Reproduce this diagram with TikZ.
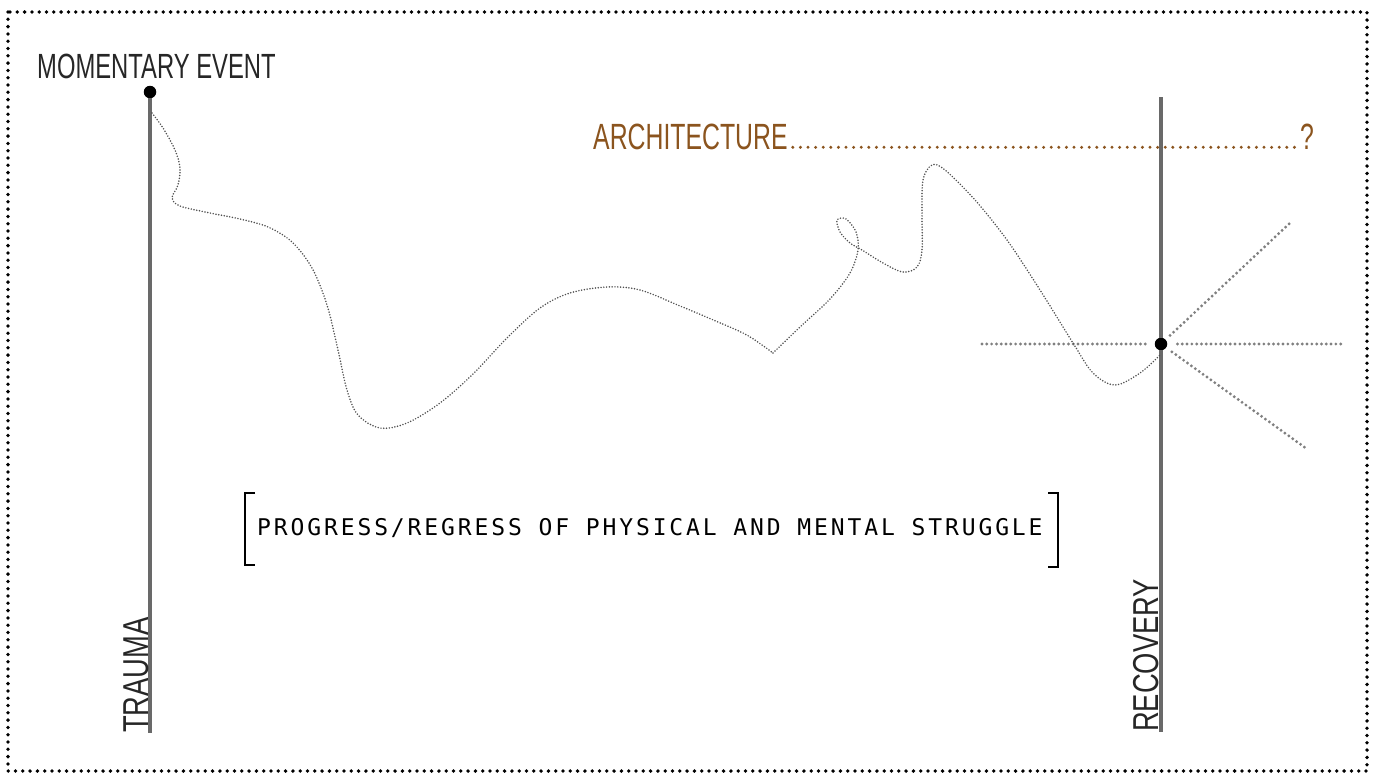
\documentclass[tikz,border=0pt]{standalone}
\usepackage{fontspec}
\usepackage{xcolor}
\newfontfamily\condfont[FakeStretch=0.68]{Liberation Sans}
\newfontfamily\condwidefont[FakeStretch=0.76]{Liberation Sans}
\newfontfamily\spacedmono[LetterSpace=12.5]{DejaVu Sans Mono}
\definecolor{archbrown}{RGB}{139,84,30}
\definecolor{axisgray}{RGB}{105,105,105}
\definecolor{curvegray}{RGB}{80,80,80}
\tikzset{
    axis-line/.style = {draw=axisgray, line width=3.5pt},
    event-dot/.style = {circle, fill=black, inner sep=0pt, minimum size=12.5pt},
    struggle-path/.style = {draw=curvegray, line width=1.7pt, line cap=round, dash pattern=on 0pt off 2.8pt},
    ray-line/.style = {draw=gray, line width=3.2pt, line cap=round, dash pattern=on 0pt off 4.8pt},
    frame-line/.style = {draw=black, line width=3.8pt, line cap=round, dash pattern=on 0pt off 7.3pt},
    leader-dots/.style = {draw=archbrown, line width=3.3pt, line cap=round, dash pattern=on 0pt off 7.6pt},
    big-label/.style = {font=\condfont\fontsize{35}{35}\selectfont, inner sep=0pt, text=black!85, anchor=base west},
    side-label/.style = {font=\condwidefont\fontsize{36}{36}\selectfont, inner sep=0pt, rotate=90, anchor=base west, text=black!85},
    arch-label/.style = {font=\condfont\fontsize{36.5}{36.5}\selectfont, inner sep=0pt, text=archbrown, anchor=base west},
    bracket-label/.style = {font=\spacedmono\fontsize{23}{23}\selectfont, inner sep=0pt, anchor=base west},
    bracket-line/.style = {draw=black, line width=2.8pt},
}

\begin{document}
\begin{tikzpicture}[x=1pt,y=-1pt]
\useasboundingbox (0,0) rectangle (1378,774);
\draw[frame-line] (8,12) rectangle (1367,771);

\node[big-label] (momentary) at (37,78) {MOMENTARY EVENT};
\node[event-dot] (event) at (150,92) {};
\node[event-dot] (recoverydot) at (1161,344) {};
\coordinate (traumabase) at (150,733);
\coordinate (recoverytop) at (1161,97);
\coordinate (recoverybase) at (1161,732);
\draw[axis-line] (event) -- (traumabase);
\draw[axis-line] (recoverytop) -- (recoverydot) -- (recoverybase);
\node[side-label] (trauma) at (148,733) {TRAUMA};
\node[side-label] (recovery) at (1158,732) {RECOVERY};

\node[arch-label] (architecture) at (593,149) {ARCHITECTURE};
\node[arch-label] (question) at (1300,149) {?};
\draw[leader-dots] ([xshift=5pt,yshift=1.7pt]architecture.base east) -- ([xshift=-4pt,yshift=1.7pt]question.base west);

\coordinate (rayleft) at (982,344);
\coordinate (rayright) at (1343,344);
\coordinate (rayup) at (1290,223);
\coordinate (raydown) at (1307,449);
\draw[ray-line, shorten >=8pt] (rayleft) -- (recoverydot);
\draw[ray-line, shorten <=10pt] (recoverydot) -- (rayright);
\draw[ray-line, shorten <=6pt] (recoverydot) -- (rayup);
\draw[ray-line, shorten <=7pt] (recoverydot) -- (raydown);

\draw[struggle-path] plot[smooth, tension=0.55] coordinates {
    (152,113) (163,128) (175,150) (180,168) (178,185) (172,198) (180,206)
    (210,213) (240,219) (268,227) (292,242) (312,268) (327,305) (338,350)
    (347,390) (358,415) (380,428) (407,423) (440,403) (473,374) (507,338)
    (540,308) (570,293) (607,287) (640,290) (680,306) (718,322) (745,334)
    (762,345) (773,353)}
    plot[smooth, tension=0.55] coordinates {(773,353) (800,327) (830,299)
    (850,273) (858,250) (856,232) (846,219)
    (837,220) (840,232) (850,243) (862,250) (883,263) (903,272) (917,267)
    (922,250) (922,215) (923,180) (932,165) (945,170) (975,200) (1007,240)
    (1040,290) (1073,343) (1093,373) (1115,385) (1140,373) (1160,355)};

\node[bracket-label] (struggle) at (257,535) {PROGRESS/REGRESS OF PHYSICAL AND MENTAL STRUGGLE};
\draw[bracket-line] (255,493) -| (245,565) -- (255,565);
\draw[bracket-line] (1048,493) -| (1058,567) -- (1048,567);
\end{tikzpicture}
\end{document}
